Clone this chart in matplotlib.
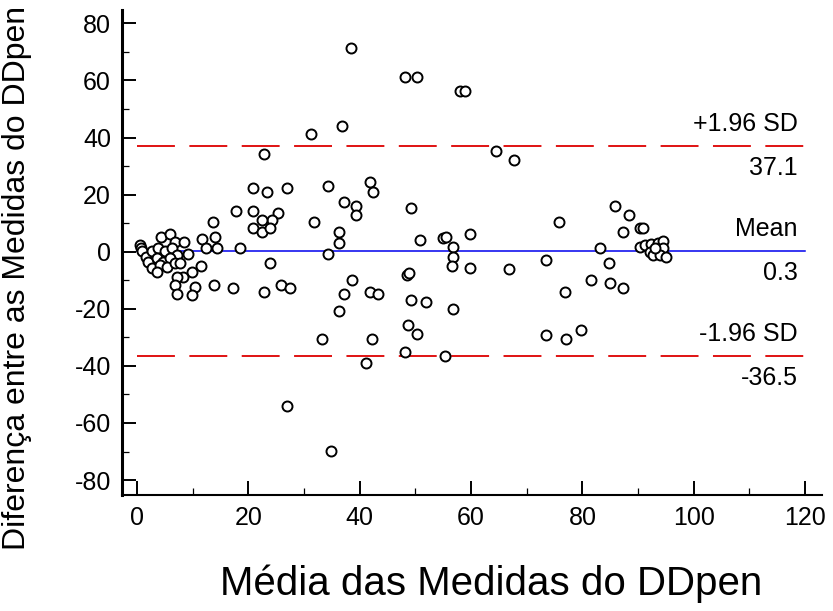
import matplotlib
matplotlib.use("Agg")
import matplotlib.pyplot as plt
from matplotlib.ticker import MultipleLocator

plt.rcParams['font.family'] = ['Liberation Sans', 'DejaVu Sans']
plt.rcParams['axes.unicode_minus'] = False

# mean of the two measurements (x) and their difference (y)
media = [4.3, 5.9, 6.8, 8.5, 0.5, 0.7, 0.8, 1.6, 2.6, 3.8,
         5.0, 6.2, 7.1, 9.2, 2.0, 3.5, 4.7, 5.9, 2.6, 4.1,
         5.3, 6.8, 3.5, 7.7, 11.5, 9.8, 8.3, 7.1, 6.8, 10.4,
         7.1, 9.8, 13.9, 17.3, 11.7, 14.0, 12.4, 14.3, 18.5, 13.7,
         17.8, 20.9, 20.9, 23.4, 27.0, 22.8, 31.2, 36.9, 38.4, 25.4,
         24.2, 22.4, 20.9, 22.4, 23.8, 31.8, 34.3, 36.3, 36.3, 37.2,
         39.4, 39.4, 34.3, 23.8, 22.8, 25.9, 27.5, 38.7, 37.2, 36.3,
         33.3, 27.0, 34.8, 48.1, 50.3, 58.0, 58.9, 64.4, 67.7, 41.8,
         42.3, 49.3, 50.9, 55.0, 55.5, 56.7, 56.7, 59.8, 56.5, 59.8,
         66.8, 41.8, 43.3, 48.5, 48.9, 49.3, 51.9, 56.8, 48.7, 50.3,
         42.2, 41.2, 48.2, 55.3, 75.8, 73.4, 76.8, 73.4, 77.1, 79.8,
         85.8, 88.3, 87.3, 90.3, 90.9, 83.1, 84.8, 81.6, 85.0, 87.3,
         90.3, 91.2, 92.4, 93.6, 94.5, 94.4, 92.1, 92.7, 93.9, 95.1,
         93.0]
diferenca = [5.3, 6.1, 3.3, 3.5, 2.3, 1.2, 0.2, -1.8, 0.2, 1.2,
             0.2, 1.2, -1.2, -0.9, -3.5, -2.3, -3.5, -2.3, -5.8, -4.7,
             -5.3, -4.1, -7.0, -4.1, -4.9, -7.0, -8.8, -8.8, -11.7, -12.3,
             -14.9, -15.2, -11.7, -12.6, 4.4, 5.3, 1.4, 1.2, 1.2, 10.5,
             14.4, 14.4, 22.2, 21.0, 22.2, 34.2, 41.2, 44.1, 71.2, 13.4,
             11.1, 11.1, 8.2, 7.0, 8.2, 10.3, 23.1, 7.0, 2.9, 17.3,
             16.0, 12.9, -0.8, -4.0, -14.2, -11.7, -12.8, -9.9, -14.9, -20.7,
             -30.7, -53.9, -69.8, 61.3, 61.3, 56.4, 56.4, 35.3, 32.1, 24.3,
             21.0, 15.2, 4.2, 4.7, 5.3, 1.8, -1.8, 6.1, -5.0, -5.8,
             -6.1, -14.2, -14.9, -8.2, -7.6, -16.9, -17.7, -20.1, -25.7, -28.9,
             -30.7, -38.9, -35.0, -36.5, 10.3, -2.9, -14.0, -29.2, -30.7, -27.4,
             16.0, 12.8, 7.0, 8.3, 8.3, 1.2, -4.1, -9.9, -10.9, -12.8,
             1.8, 2.3, 2.6, 2.9, 3.7, 1.2, 0.0, -1.2, -1.2, -1.8,
             1.2]

mean_diff = 0.3
upper_loa = 37.1
lower_loa = -36.5

fig = plt.figure(figsize=(8.33, 6.11), dpi=100)
ax = fig.add_axes([0.1465, 0.19, 0.84, 0.7937])

ax.plot(media, diferenca, 'o', markerfacecolor='white', markeredgecolor='black',
        markersize=7.2, markeredgewidth=1.4, zorder=3)

# mean and limits of agreement
ax.plot([0, 120], [mean_diff, mean_diff], color='#0000ee', linewidth=1.1, zorder=2)
ax.plot([0, 120], [upper_loa, upper_loa], color='#dd0000', linewidth=1.3,
        dashes=(21, 8), zorder=2)
ax.plot([0, 120], [lower_loa, lower_loa], color='#dd0000', linewidth=1.3,
        dashes=(21, 8), zorder=2)

labels = [(upper_loa, '+1.96 SD', '37.1'),
          (mean_diff, 'Mean', '0.3'),
          (lower_loa, '-1.96 SD', '-36.5')]
for yv, above, below in labels:
    ax.annotate(above, (118.7, yv), xytext=(0, 7), textcoords='offset points',
                ha='right', va='bottom', fontsize=18)
    ax.annotate(below, (118.7, yv), xytext=(0, -7), textcoords='offset points',
                ha='right', va='top', fontsize=18)

ax.set_xlim(-2.7, 123)
ax.set_ylim(-85.2, 84.7)
ax.set_xticks(range(0, 121, 20))
ax.set_yticks(range(-80, 81, 20))
ax.xaxis.set_minor_locator(MultipleLocator(10))
ax.yaxis.set_minor_locator(MultipleLocator(10))
ax.tick_params(which='major', direction='in', length=10, width=1.4,
               labelsize=18, pad=8)
ax.tick_params(which='minor', direction='in', length=5, width=0.9)

ax.spines['top'].set_visible(False)
ax.spines['right'].set_visible(False)
ax.spines['left'].set_linewidth(2.2)
ax.spines['bottom'].set_linewidth(1.5)

fig.text(0.021, 0.545, 'Diferença entre as Medidas do DDpen', rotation=90,
         ha='center', va='center', fontsize=23)
fig.text(0.59, 0.026, 'Média das Medidas do DDpen', ha='center',
         va='baseline', fontsize=29)

fig.savefig('out.png', dpi=100)
